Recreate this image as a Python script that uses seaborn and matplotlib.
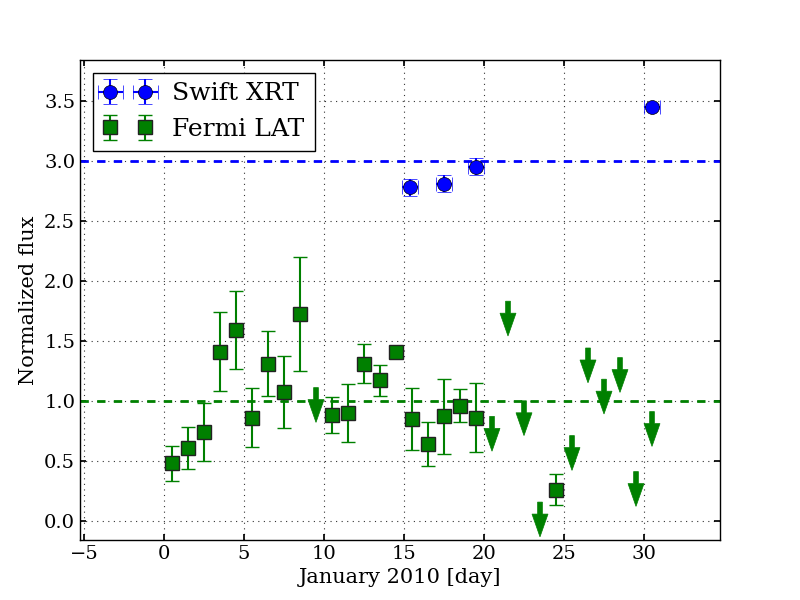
import matplotlib
matplotlib.use("Agg")
import matplotlib.pyplot as plt
import seaborn as sns

# --- Fermi LAT detections (days, normalized flux, symmetric error)
lat_day = [0.5, 1.5, 2.5, 3.5, 4.5, 5.5, 6.5, 7.5, 8.5, 10.5, 11.5, 12.5,
           13.5, 14.5, 15.5, 16.5, 17.5, 18.5, 19.5, 24.5]
lat_flux = [0.48, 0.61, 0.74, 1.41, 1.59, 0.86, 1.31, 1.07, 1.72, 0.88, 0.90,
            1.31, 1.17, 1.41, 0.85, 0.64, 0.87, 0.96, 0.86, 0.26]
lat_err = [0.145, 0.175, 0.24, 0.33, 0.325, 0.245, 0.27, 0.30, 0.475, 0.15,
           0.24, 0.16, 0.13, 0.03, 0.26, 0.18, 0.31, 0.135, 0.29, 0.13]

# --- Fermi LAT upper limits
ul_day = [9.5, 20.5, 21.5, 22.5, 23.5, 25.5, 26.5, 27.5, 28.5, 29.5, 30.5]
ul_flux = [1.11, 0.87, 1.83, 1.00, 0.156, 0.71, 1.44, 1.18, 1.36, 0.41, 0.91]

# --- Swift XRT
xrt_day = [15.35, 17.5, 19.5, 30.5]
xrt_flux = [2.78, 2.81, 2.95, 3.45]
xrt_yerr = [0.07, 0.07, 0.07, 0.02]
xrt_xerr = [0.5, 0.5, 0.5, 0.5]

# niveaux de reference
xrt_level = 3.0
lat_level = 1.0

sns.set_theme(style="whitegrid", rc={
    "axes.edgecolor": "black",
    "axes.linewidth": 1.0,
    "grid.color": "#333333",
    "grid.linestyle": (0, (1, 4)),
    "grid.linewidth": 0.8,
    "xtick.direction": "in",
    "ytick.direction": "in",
    "xtick.top": True,
    "ytick.right": True,
    "xtick.bottom": True,
    "ytick.left": True,
    "xtick.major.size": 4,
    "ytick.major.size": 4,
    "xtick.color": "black",
    "ytick.color": "black",
    "axes.labelcolor": "black",
    "text.color": "black",
})
plt.rcParams["font.family"] = ["DejaVu Serif"]

fig, ax = plt.subplots(figsize=(8, 6), dpi=100)
fig.subplots_adjust(left=0.1, right=0.9, bottom=0.1, top=0.9)

ax.axhline(xrt_level, color="blue", lw=2, ls="--", dashes=(3, 3), zorder=2)
ax.axhline(lat_level, color="green", lw=2, ls="--", dashes=(3, 3), zorder=2)

ax.errorbar(xrt_day, xrt_flux, yerr=xrt_yerr, xerr=xrt_xerr, fmt="o",
            color="blue", ms=10, mec="black", mew=0.5, elinewidth=1.5,
            capsize=5, capthick=2, label="Swift XRT", zorder=3)
ax.errorbar(lat_day, lat_flux, yerr=lat_err, fmt="s", color="green",
            ms=10, mec="#222222", mew=1, elinewidth=1.5, capsize=5,
            capthick=2, label="Fermi LAT", zorder=3)

# fleches = limites superieures
for d, f in zip(ul_day, ul_flux):
    ax.arrow(d, f, 0, -0.1, width=0.3, head_width=1.0, head_length=0.19,
             fc="green", ec="green", lw=0.5, zorder=3)

ax.set_xlim(-5.25, 34.75)
ax.set_ylim(-0.16, 3.84)
ax.set_xticks([-5, 0, 5, 10, 15, 20, 25, 30])
ax.set_yticks([0.0, 0.5, 1.0, 1.5, 2.0, 2.5, 3.0, 3.5])
ax.set_yticklabels([f"{v:.1f}" for v in ax.get_yticks()])
ax.tick_params(labelsize=14)
ax.set_xlabel("January 2010 [day]", fontsize=15)
ax.set_ylabel("Normalized flux", fontsize=15)

leg = ax.legend(loc="upper left", numpoints=2, fontsize=18, fancybox=False,
                framealpha=1, edgecolor="black", borderaxespad=0.5)
leg.get_frame().set_linewidth(1.0)

fig.savefig("out.png", dpi=100)
